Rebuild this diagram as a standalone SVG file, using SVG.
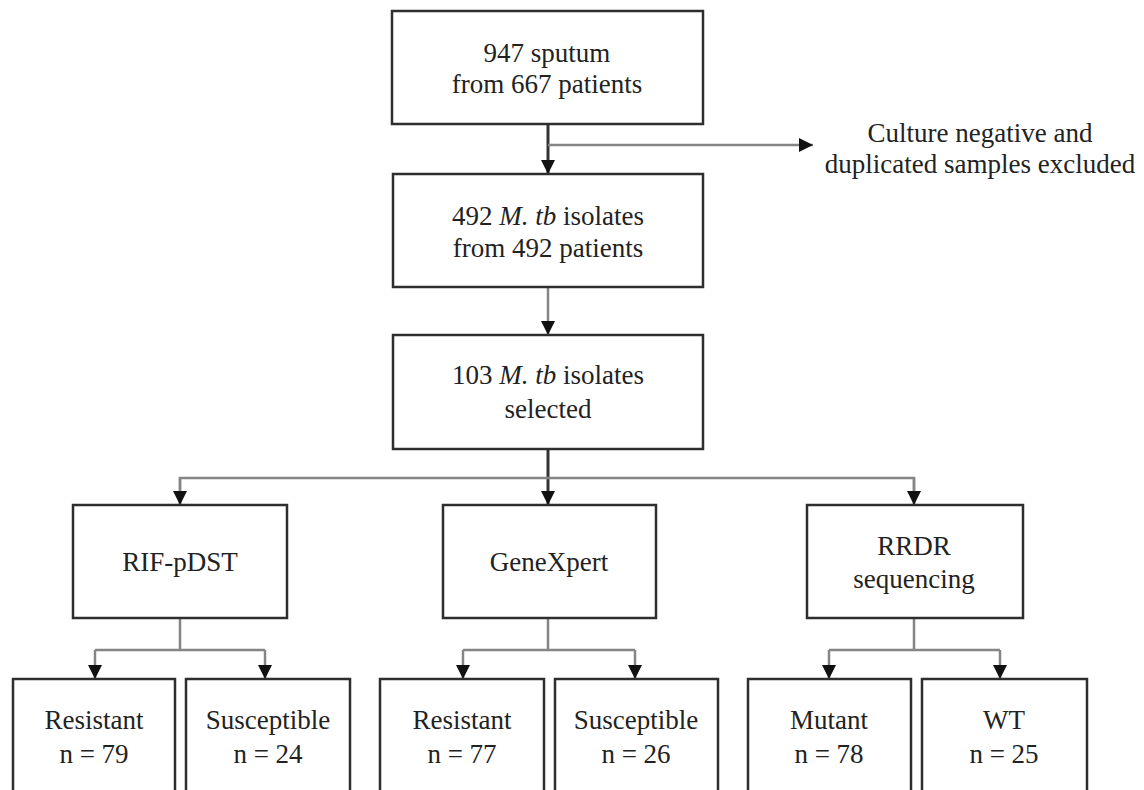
<svg xmlns="http://www.w3.org/2000/svg" width="1144" height="790" viewBox="0 0 1144 790">
<style>
.box{fill:#fff;stroke:#2e2e2e;stroke-width:2.5}
.t{font-family:"Liberation Serif","Times New Roman",serif;font-size:27px;fill:#222;text-anchor:middle}
.c{fill:none;stroke:#858585;stroke-width:2.5}
.cd{fill:none;stroke:#333;stroke-width:3}
</style>
<defs>
<marker id="ah" markerUnits="userSpaceOnUse" markerWidth="14" markerHeight="14" viewBox="0 0 14 14" refX="14" refY="7" orient="auto">
<path d="M0,0 L14,7 L0,14 Z" fill="#111"/>
</marker>
</defs>
<rect width="1144" height="790" fill="#fff"/>
<g id="connectors">
<line class="cd" x1="548" y1="124" x2="548" y2="174" marker-end="url(#ah)"/>
<line class="c" x1="548" y1="145" x2="813" y2="145" marker-end="url(#ah)"/>
<line class="c" x1="548" y1="287" x2="548" y2="335" marker-end="url(#ah)"/>
<line class="cd" x1="548" y1="449" x2="548" y2="505" marker-end="url(#ah)"/>
<polyline class="c" points="180,505 180,478 914,478 914,505"/>
<path class="c" d="M180,478 V505" marker-end="url(#ah)"/>
<path class="c" d="M914,478 V505" marker-end="url(#ah)"/>
<path class="c" d="M180,618 V650 M95,650 H265"/>
<path class="c" d="M95,650 V679" marker-end="url(#ah)"/>
<path class="c" d="M265,650 V679" marker-end="url(#ah)"/>
<path class="c" d="M548,618 V650 M463,650 H635"/>
<path class="c" d="M463,650 V679" marker-end="url(#ah)"/>
<path class="c" d="M635,650 V679" marker-end="url(#ah)"/>
<path class="c" d="M914,618 V650 M829,650 H1000"/>
<path class="c" d="M829,650 V679" marker-end="url(#ah)"/>
<path class="c" d="M1000,650 V679" marker-end="url(#ah)"/>
</g>
<g id="n1"><rect class="box" x="392" y="11" width="311" height="113"/>
<text class="t" x="547" y="62">947 sputum</text><text class="t" x="547" y="93">from 667 patients</text></g>
<g id="excluded"><text class="t" x="980" y="142">Culture negative and</text><text class="t" x="980" y="173">duplicated samples excluded</text></g>
<g id="n2"><rect class="box" x="393" y="174" width="310" height="113"/>
<text class="t" x="548" y="225">492 <tspan font-style="italic">M. tb</tspan> isolates</text><text class="t" x="548" y="257">from 492 patients</text></g>
<g id="n3"><rect class="box" x="393" y="335" width="310" height="114"/>
<text class="t" x="548" y="384">103 <tspan font-style="italic">M. tb</tspan> isolates</text><text class="t" x="548" y="418">selected</text></g>
<g id="rif"><rect class="box" x="73" y="505" width="214" height="113"/>
<text class="t" x="180" y="571">RIF-pDST</text></g>
<g id="gx"><rect class="box" x="443" y="505" width="213" height="113"/>
<text class="t" x="549" y="571">GeneXpert</text></g>
<g id="rrdr"><rect class="box" x="807" y="505" width="216" height="113"/>
<text class="t" x="914" y="555">RRDR</text><text class="t" x="914" y="588">sequencing</text></g>
<g id="rif-r"><rect class="box" x="13" y="679" width="162" height="130"/>
<text class="t" x="94" y="729">Resistant</text><text class="t" x="94" y="763">n = 79</text></g>
<g id="rif-s"><rect class="box" x="186" y="679" width="164" height="130"/>
<text class="t" x="268" y="729">Susceptible</text><text class="t" x="268" y="763">n = 24</text></g>
<g id="gx-r"><rect class="box" x="380" y="679" width="164" height="130"/>
<text class="t" x="462" y="729">Resistant</text><text class="t" x="462" y="763">n = 77</text></g>
<g id="gx-s"><rect class="box" x="555" y="679" width="163" height="130"/>
<text class="t" x="636" y="729">Susceptible</text><text class="t" x="636" y="763">n = 26</text></g>
<g id="rrdr-m"><rect class="box" x="748" y="679" width="163" height="130"/>
<text class="t" x="829" y="729">Mutant</text><text class="t" x="829" y="763">n = 78</text></g>
<g id="rrdr-w"><rect class="box" x="922" y="679" width="165" height="130"/>
<text class="t" x="1004" y="729">WT</text><text class="t" x="1004" y="763">n = 25</text></g>
</svg>
